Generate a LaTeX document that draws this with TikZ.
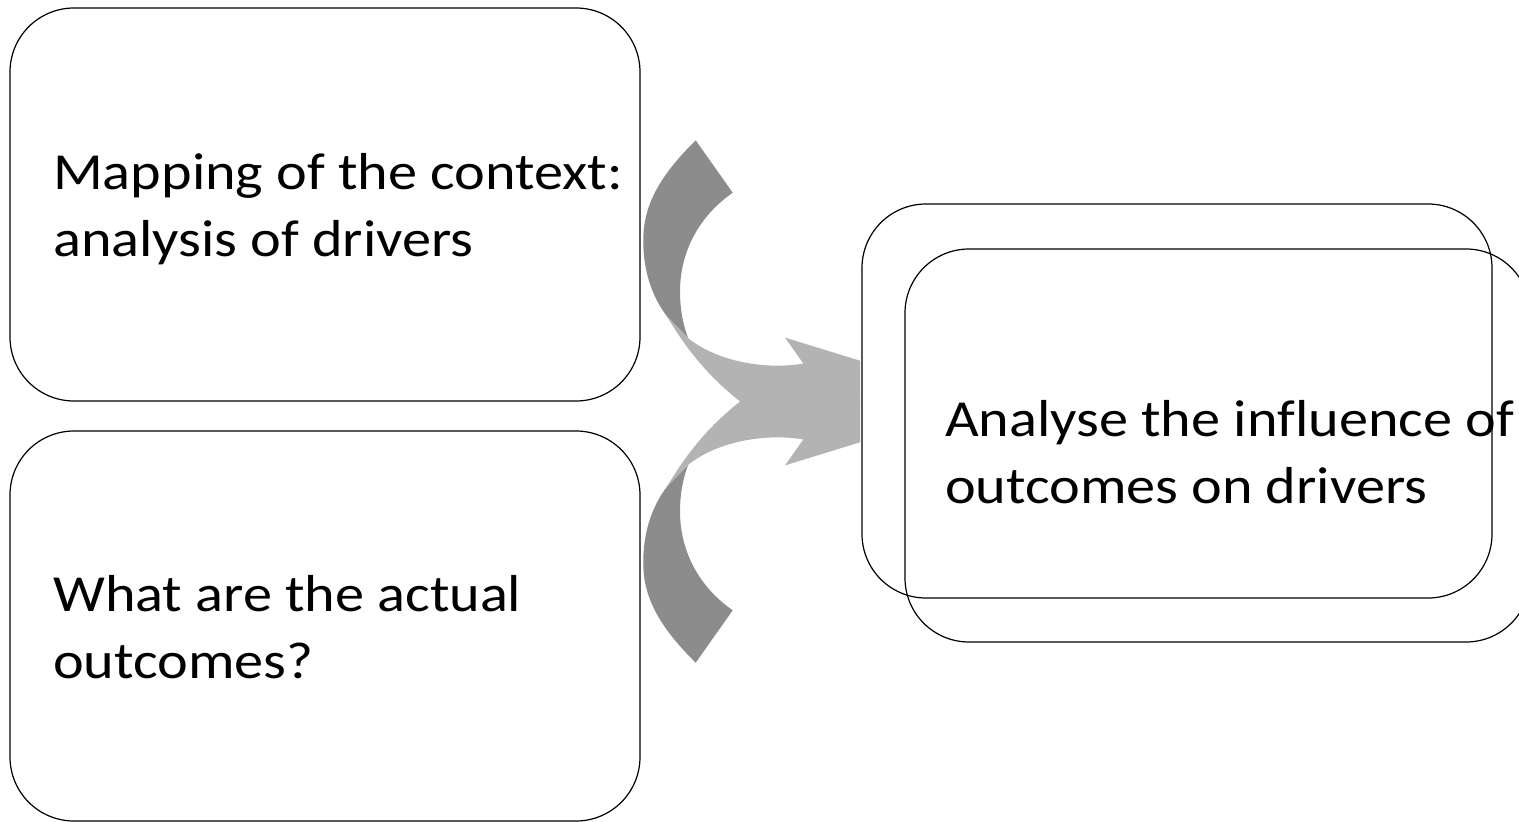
\documentclass[tikz,border=0pt]{standalone}
\usepackage{fontspec}
\setmainfont{Carlito}[FakeStretch=1.12, Ligatures=NoCommon]
\definecolor{arrowback}{RGB}{140,140,140}
\definecolor{arrowfront}{RGB}{179,179,179}
\begin{document}
\begin{tikzpicture}[x=1pt,y=-1pt]
    \tikzset{stepbox/.style={draw=black, line width=1.2pt, rounded corners=64pt, inner sep=0pt,
        minimum width=630pt, minimum height=393pt},
      boxtext/.style={anchor=base west, align=left, inner sep=0pt, font=\fontsize{52}{67}\selectfont}}
    \clip (0,0) rectangle (1519,822);
    % back parts of the two bent arrows
    \foreach \s in {1,-1}{
      \begin{scope}[shift={(0,401.5)}, yscale=\s]
        \fill[arrowback] (695.7,-261.2) .. controls (660,-226) and (643,-196) .. (643.3,-161.3)
          .. controls (643,-131) and (652,-105) .. (666.7,-85.5) -- (688.3,-63.2)
          .. controls (682,-79) and (680,-96) .. (680,-109.7)
          .. controls (680,-151) and (700,-186) .. (732.7,-208.8) -- cycle;
      \end{scope}
    }
    % front parts and heads
    \foreach \s in {1,-1}{
      \begin{scope}[shift={(0,401.5)}, yscale=\s]
        \fill[arrowfront] (666.7,-85.5) .. controls (685,-55) and (705,-28) .. (740,0)
          -- (745,4) -- (860,4) -- (860,-40.8) -- (785,-63.9) -- (803.3,-38)
          .. controls (770,-32) and (720,-38) .. (688.3,-63.2) -- cycle;
      \end{scope}
    }
    \node[stepbox] (context) at (325,204.5) {};
    \node[stepbox, minimum height=390pt] (outcomes) at (325,626) {};
    \node[stepbox, minimum height=394pt] (influence) at (1177,401) {};
    \node[stepbox, minimum width=625pt] (influencefront) at (1217.5,445.5) {};
    % base anchor sits on the last line
    \node[boxtext] (contexttext) at (53,256) {Mapping of the context:\\analysis of drivers};
    \node[boxtext] (outcomestext) at (53,678) {What are the actual\\outcomes?};
    \node[boxtext] (influencetext) at (945,503) {Analyse the influence of\\outcomes on drivers};
\end{tikzpicture}
\end{document}
